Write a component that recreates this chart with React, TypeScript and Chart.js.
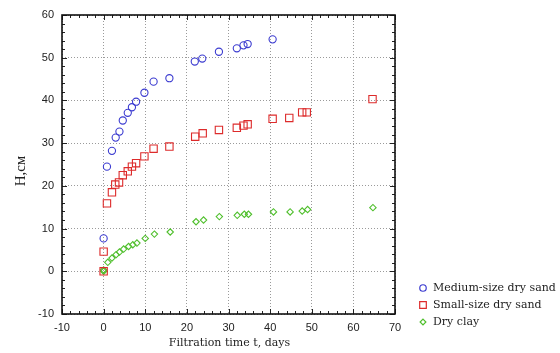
import React, { useEffect, useRef } from "react";
import { Chart, registerables } from "chart.js";

Chart.register(...registerables);

// ---- data ----
const seriesNames = ["Medium-size dry sand", "Small-size dry sand", "Dry clay"];

const mediumT = [0, 0.8, 2, 2.9, 3.8, 4.6, 5.8, 6.8, 7.8, 9.8, 12, 15.8, 21.9, 23.7, 27.7, 32, 33.6, 34.6, 40.6];
const mediumH = [7.7, 24.5, 28.2, 31.3, 32.7, 35.3, 37.1, 38.4, 39.7, 41.8, 44.4, 45.2, 49.1, 49.8, 51.4, 52.2, 52.9, 53.2, 54.3];

const smallT = [0, 0, 0.8, 2, 2.8, 3.7, 4.6, 5.8, 6.8, 7.8, 9.8, 12, 15.8, 22, 23.8, 27.7, 32, 33.6, 34.6, 40.6, 44.6, 47.7, 48.8, 64.6];
const smallH = [0, 4.6, 15.9, 18.5, 20.3, 20.8, 22.5, 23.4, 24.5, 25.3, 26.9, 28.7, 29.2, 31.5, 32.3, 33.1, 33.6, 34.1, 34.4, 35.7, 35.9, 37.2, 37.2, 40.3];

const clayT = [0, 0, 1, 2, 3, 3.8, 4.8, 6, 7, 8, 10, 12.2, 16, 22.2, 24, 27.8, 32.1, 33.8, 34.8, 40.8, 44.8, 47.7, 49, 64.7];
const clayH = [0, 0.3, 2.1, 3.1, 3.9, 4.5, 5.2, 5.8, 6.2, 6.6, 7.7, 8.7, 9.2, 11.6, 12.0, 12.8, 13.1, 13.35, 13.35, 13.9, 13.9, 14.1, 14.45, 14.9];

const xMin = -10;
const xMax = 70;
const yMin = -10;
const yMax = 60;
const majorStep = 10;
const minorStep = 2;

const xTitle = "Filtration time t, days";
const yTitle = "H,см";

// ---- styles ----
const colors = ["#3b3bd0", "#dd2b2b", "#4fbf2c"];
const pointStyles = ["circle", "rect", "rectRot"];
const pointRadii = [3.6, 5.2, 3.2];

const toPoints = (xs: number[], ys: number[]) => xs.map((x, i) => ({ x, y: ys[i] }));

function drawMarker(ctx: CanvasRenderingContext2D, style: string, r: number, x: number, y: number) {
  ctx.beginPath();
  if (style === "circle") {
    ctx.arc(x, y, r, 0, Math.PI * 2);
  } else if (style === "rect") {
    const s = Math.SQRT1_2 * r;
    ctx.rect(x - s, y - s, 2 * s, 2 * s);
  } else {
    ctx.moveTo(x, y - r);
    ctx.lineTo(x + r, y);
    ctx.lineTo(x, y + r);
    ctx.lineTo(x - r, y);
    ctx.closePath();
  }
  ctx.stroke();
}

const framePlugin = {
  id: "frameAndDecor",
  afterDraw(chart: any) {
    const { ctx, chartArea } = chart;
    const xs = chart.scales.x;
    const ys = chart.scales.y;
    const { left, right, top, bottom } = chartArea;
    ctx.save();
    // ticks inside the frame
    ctx.strokeStyle = "#222";
    ctx.lineWidth = 1;
    ctx.beginPath();
    for (let v = xMin; v <= xMax + 1e-9; v += minorStep) {
      const px = Math.round(xs.getPixelForValue(v)) + 0.5;
      const len = Math.abs(v % majorStep) < 1e-9 ? 5 : 3;
      ctx.moveTo(px, bottom);
      ctx.lineTo(px, bottom - len);
      ctx.moveTo(px, top);
      ctx.lineTo(px, top + len);
    }
    for (let v = yMin; v <= yMax + 1e-9; v += minorStep) {
      const py = Math.round(ys.getPixelForValue(v)) + 0.5;
      const len = Math.abs(v % majorStep) < 1e-9 ? 5 : 3;
      ctx.moveTo(left, py);
      ctx.lineTo(left + len, py);
      ctx.moveTo(right, py);
      ctx.lineTo(right - len, py);
    }
    ctx.stroke();
    // frame
    ctx.strokeStyle = "#111";
    ctx.lineWidth = 1.6;
    ctx.strokeRect(left, top, right - left, bottom - top);

    // axis titles
    ctx.fillStyle = "#222";
    ctx.font = "11px 'DejaVu Serif'";
    ctx.textAlign = "center";
    ctx.textBaseline = "middle";
    ctx.fillText(xTitle, (left + right) / 2 + 1, 343);

    ctx.save();
    ctx.translate(21, 171);
    ctx.rotate(-Math.PI / 2);
    ctx.font = "15px 'Liberation Serif'";
    ctx.fillText(yTitle, 0, 0);
    ctx.restore();

    // legend
    const rowY = [288, 305, 322];
    ctx.font = "11px 'DejaVu Serif'";
    ctx.textAlign = "left";
    chart.data.datasets.forEach((ds: any, i: number) => {
      ctx.strokeStyle = ds.borderColor;
      ctx.lineWidth = 1.2;
      drawMarker(ctx, ds.pointStyle, ds.pointRadius * 0.9, 423, rowY[i]);
      ctx.fillStyle = "#222";
      ctx.fillText(ds.label, 433, rowY[i] + 0.5);
    });
    ctx.restore();
  },
};

export default function App() {
  const canvasRef = useRef<HTMLCanvasElement | null>(null);

  useEffect(() => {
    document.body.style.margin = "0";
    document.body.style.background = "#fff";
    const canvas = canvasRef.current;
    if (!canvas) return;
    const datasets = [
      toPoints(mediumT, mediumH),
      toPoints(smallT, smallH),
      toPoints(clayT, clayH),
    ].map((data, i) => ({
      label: seriesNames[i],
      data,
      showLine: false,
      pointStyle: pointStyles[i],
      pointRadius: pointRadii[i],
      pointHoverRadius: pointRadii[i],
      pointBorderWidth: 1.1,
      borderColor: colors[i],
      backgroundColor: "rgba(0,0,0,0)",
      pointBackgroundColor: "rgba(0,0,0,0)",
      pointBorderColor: colors[i],
    }));

    const chart = new Chart(canvas, {
      type: "scatter",
      data: { datasets },
      options: {
        responsive: false,
        animation: false,
        layout: { padding: { left: 0, top: 15, right: 165, bottom: 0 } },
        plugins: { legend: { display: false }, tooltip: { enabled: false } },
        scales: {
          x: {
            type: "linear",
            min: xMin,
            max: xMax,
            afterFit: (s: any) => {
              s.height = 39;
            },
            ticks: {
              stepSize: majorStep,
              padding: 7,
              color: "#222",
              font: { family: "'Liberation Sans', Arial, sans-serif", size: 11 },
            },
            grid: { color: "#9a9a9a", lineWidth: 1, drawTicks: false },
            border: { display: false, dash: [1, 2] },
          },
          y: {
            type: "linear",
            min: yMin,
            max: yMax,
            afterFit: (s: any) => {
              s.width = 62;
            },
            ticks: {
              stepSize: majorStep,
              padding: 8,
              color: "#222",
              font: { family: "'Liberation Sans', Arial, sans-serif", size: 11 },
            },
            grid: { color: "#9a9a9a", lineWidth: 1, drawTicks: false },
            border: { display: false, dash: [1, 2] },
          },
        },
      },
      plugins: [framePlugin],
    } as any);

    return () => chart.destroy();
  }, []);

  return (
    <div style={{ width: 560, height: 353, background: "#fff" }}>
      <canvas ref={canvasRef} width={560} height={353} style={{ display: "block" }} />
    </div>
  );
}
